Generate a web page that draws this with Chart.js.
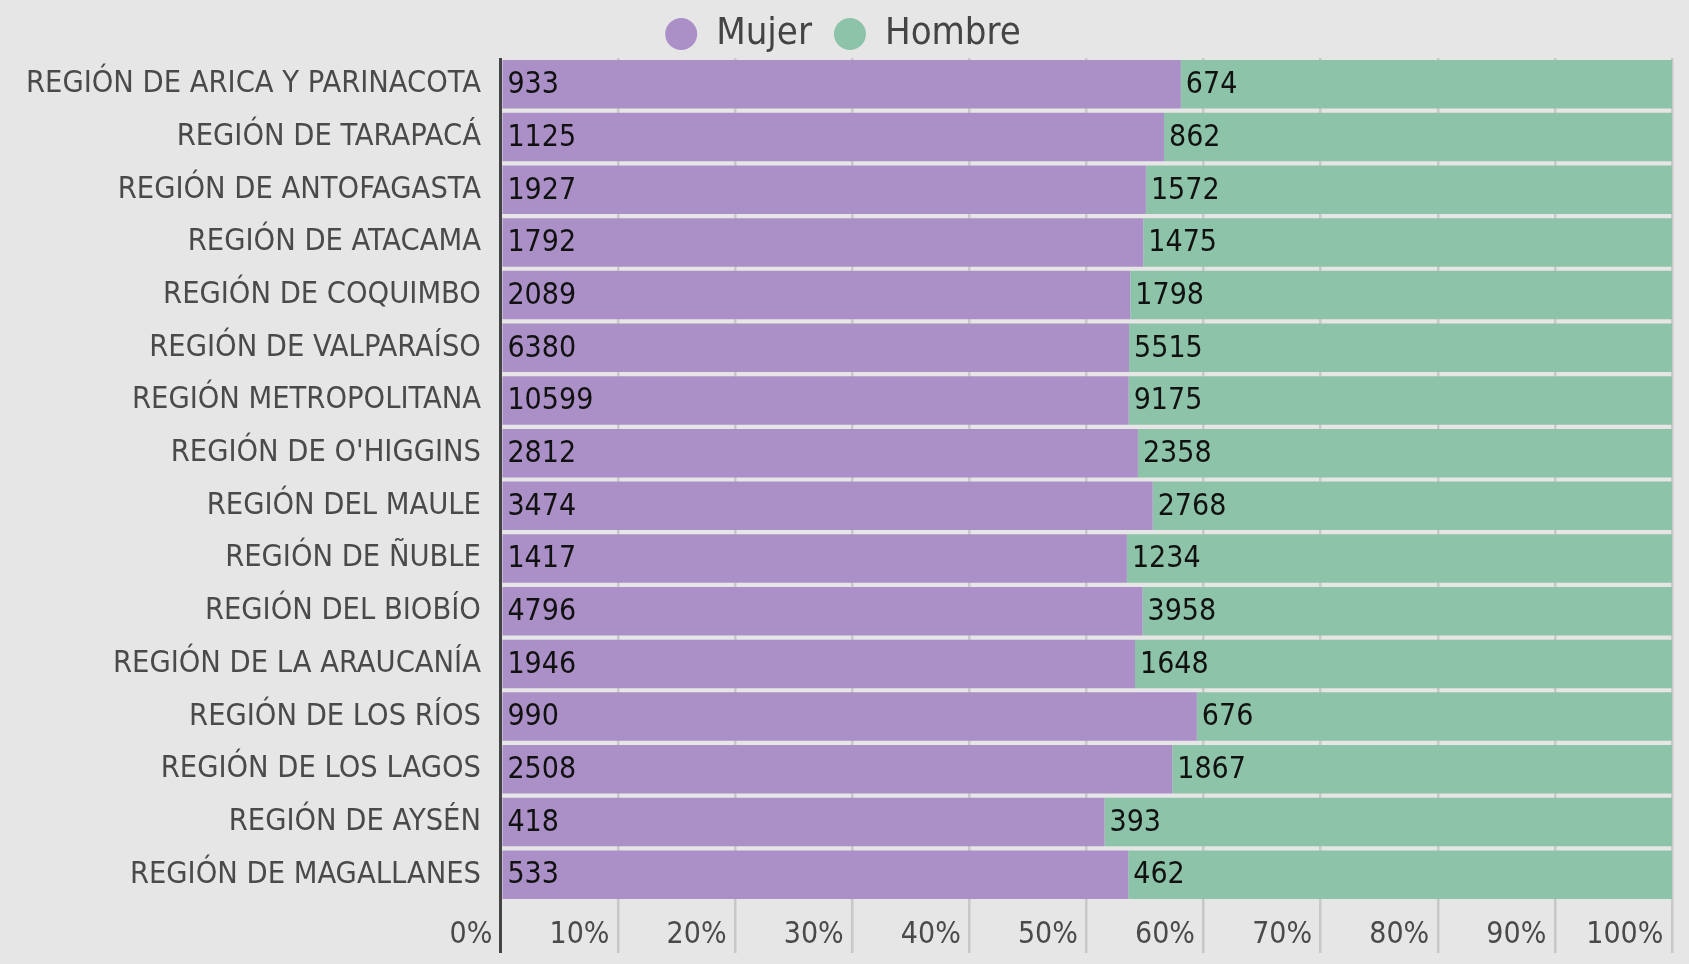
<!DOCTYPE html>
<html>
<head>
<meta charset="utf-8">
<script src="https://cdn.jsdelivr.net/npm/chart.js@4/dist/chart.umd.min.js"></script>
<style>
html,body{margin:0;padding:0;background:#e6e6e6;}
#wrap{width:1689px;height:964px;position:relative;}
</style>
</head>
<body>
<div id="wrap"><canvas id="c" width="1689" height="964"></canvas></div>
<script>
const categories = [
  "REGIÓN DE ARICA Y PARINACOTA","REGIÓN DE TARAPACÁ","REGIÓN DE ANTOFAGASTA","REGIÓN DE ATACAMA",
  "REGIÓN DE COQUIMBO","REGIÓN DE VALPARAÍSO","REGIÓN METROPOLITANA","REGIÓN DE O'HIGGINS",
  "REGIÓN DEL MAULE","REGIÓN DE ÑUBLE","REGIÓN DEL BIOBÍO","REGIÓN DE LA ARAUCANÍA",
  "REGIÓN DE LOS RÍOS","REGIÓN DE LOS LAGOS","REGIÓN DE AYSÉN","REGIÓN DE MAGALLANES"
];
const mujer = [933,1125,1927,1792,2089,6380,10599,2812,3474,1417,4796,1946,990,2508,418,533];
const hombre = [674,862,1572,1475,1798,5515,9175,2358,2768,1234,3958,1648,676,1867,393,462];
const seriesNames = ["Mujer","Hombre"];
const tickValues = [0,10,20,30,40,50,60,70,80,90,100];

const FONT = '"Liberation Sans Narrow","DejaVu Sans Condensed","Noto Sans",sans-serif';
const totals = mujer.map((v,i)=>v+hombre[i]);
const pct = arr => arr.map((v,i)=>v/totals[i]*100);
const raw = [mujer, hombre];

const labelPlugin = {
  id:'valueLabels',
  beforeLayout(chart){
    const lg = chart.legend;
    if (lg && !lg._patched){
      const orig = lg.fit.bind(lg);
      lg.fit = function(){ orig(); this.height -= 5; };
      lg._patched = true;
    }
  },
  afterDatasetsDraw(chart){
    const ctx = chart.ctx;
    ctx.save();
    ctx.font = '30px ' + FONT;
    ctx.fillStyle = '#111';
    ctx.textAlign = 'left';
    ctx.textBaseline = 'middle';
    chart.data.datasets.forEach((ds,di)=>{
      const meta = chart.getDatasetMeta(di);
      meta.data.forEach((el,i)=>{
        const left = Math.min(el.x, el.base);
        ctx.fillText(String(raw[di][i]), left + 5, el.y + 1);
      });
    });
    ctx.restore();
  }
};

new Chart(document.getElementById('c'), {
  type:'bar',
  data:{
    labels: categories,
    datasets:[
      {label:seriesNames[0], data:pct(mujer), backgroundColor:'#ab90c7', borderWidth:0},
      {label:seriesNames[1], data:pct(hombre), backgroundColor:'#8dc4a9', borderWidth:0}
    ]
  },
  options:{
    indexAxis:'y',
    responsive:false,
    animation:false,
    layout:{padding:{left:14,right:17,top:-7,bottom:0}},
    datasets:{bar:{barPercentage:1,categoryPercentage:0.92}},
    plugins:{
      tooltip:{enabled:false},
      legend:{
        position:'top',
        labels:{
          usePointStyle:true, pointStyle:'circle', boxHeight:22.6, pointStyleWidth:32,
          padding:22, color:'#444', font:{size:38, family:FONT}
        }
      }
    },
    scales:{
      x:{
        stacked:true, min:0, max:100,
        afterBuildTicks(axis){ axis.ticks = tickValues.map(v=>({value:v})); },
        afterFit(axis){ axis.height = 63; },
        grid:{
          color: c => c.index===0 ? '#444' : '#c8c8c8',
          lineWidth: c => c.index===0 ? 3 : 2.5,
          tickLength:52, drawTicks:true
        },
        border:{display:false},
        ticks:{
          align:'end', padding:-36, color:'#4a4a4a', autoSkip:false, maxRotation:0,
          font:{size:30, family:FONT},
          callback:(v)=> v + '% '
        }
      },
      y:{
        stacked:true,
        grid:{display:false},
        border:{display:false},
        ticks:{color:'#4a4a4a', padding:12, font:{size:30.5, family:FONT}}
      }
    }
  },
  plugins:[labelPlugin]
});
</script>
</body>
</html>
